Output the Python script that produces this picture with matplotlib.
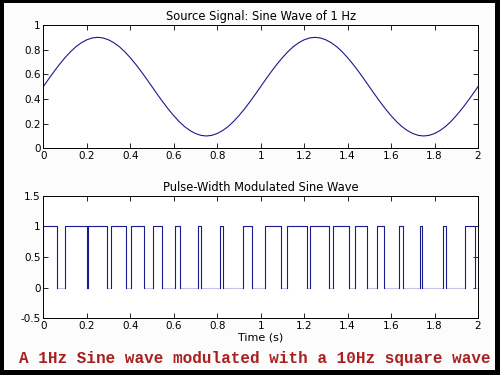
import numpy as np
import matplotlib
matplotlib.use("Agg")
import matplotlib.pyplot as plt
from matplotlib.patches import Rectangle

# ---- data ----
sine_values = [
    0.500, 0.563, 0.624, 0.682, 0.735, 0.783, 0.824, 0.856, 0.880, 0.895,
    0.900, 0.895, 0.880, 0.856, 0.824, 0.783, 0.735, 0.682, 0.624, 0.563,
    0.500, 0.437, 0.376, 0.318, 0.265, 0.217, 0.176, 0.144, 0.120, 0.105,
    0.100, 0.105, 0.120, 0.144, 0.176, 0.217, 0.265, 0.318, 0.376, 0.437,
    0.500, 0.563, 0.624, 0.682, 0.735, 0.783, 0.824, 0.856, 0.880, 0.895,
    0.900, 0.895, 0.880, 0.856, 0.824, 0.783, 0.735, 0.682, 0.624, 0.563,
    0.500, 0.437, 0.376, 0.318, 0.265, 0.217, 0.176, 0.144, 0.120, 0.105,
    0.100, 0.105, 0.120, 0.144, 0.176, 0.217, 0.265, 0.318, 0.376, 0.437,
    0.500,
]
t_start, t_end = 0.0, 2.0

pulse_starts = [0.000, 0.100, 0.205, 0.310, 0.403, 0.505, 0.607, 0.712, 0.813, 0.918,
                1.022, 1.123, 1.225, 1.331, 1.434, 1.535, 1.635, 1.735, 1.840, 1.941]
pulse_ends = [0.064, 0.199, 0.295, 0.382, 0.465, 0.545, 0.629, 0.724, 0.826, 0.961,
              1.093, 1.213, 1.314, 1.406, 1.488, 1.569, 1.655, 1.744, 1.855, 1.986]

x_ticks = [0, 0.2, 0.4, 0.6, 0.8, 1, 1.2, 1.4, 1.6, 1.8, 2]
x_ticklabels = ["0", "0.2", "0.4", "0.6", "0.8", "1", "1.2", "1.4", "1.6", "1.8", "2"]
top_yticks = [0, 0.2, 0.4, 0.6, 0.8, 1]
top_yticklabels = ["0", "0.2", "0.4", "0.6", "0.8", "1"]
bot_yticks = [-0.5, 0, 0.5, 1, 1.5]
bot_yticklabels = ["-0.5", "0", "0.5", "1", "1.5"]

title_top = "Source Signal: Sine Wave of 1 Hz"
title_bot = "Pulse-Width Modulated Sine Wave"
xlabel = "Time (s)"
caption = "A 1Hz Sine wave modulated with a 10Hz square wave"

# ---- figure ----
plt.rcParams['font.family'] = ['DejaVu Sans']
fig = plt.figure(figsize=(5, 3.75), dpi=100, facecolor="black")
fig.patches.append(Rectangle((0.008, 0.013), 0.982, 0.979, transform=fig.transFigure,
                             facecolor="#fcfcfc", edgecolor="none", zorder=-10))

line_color = "#1a1a8c"
low_color = "#c4c4e4"
fs = 7.5

def style(ax):
    ax.tick_params(direction="in", top=True, right=True, length=3.5, width=0.6,
                   labelsize=fs, pad=2)
    for s in ax.spines.values():
        s.set_linewidth(0.7)
    ax.set_facecolor("white")

ax1 = fig.add_axes([0.0866, 0.6045, 0.8694, 0.3288])
t = np.linspace(t_start, t_end, len(sine_values))
ax1.plot(t, sine_values, color=line_color, lw=0.8)
ax1.set_xlim(0, 2)
ax1.set_ylim(0, 1)
ax1.set_xticks(x_ticks, x_ticklabels)
ax1.set_yticks(top_yticks, top_yticklabels)
ax1.set_title(title_top, fontsize=8.3, pad=3.5)
style(ax1)

ax2 = fig.add_axes([0.0866, 0.1512, 0.8694, 0.3269])
# low (zero-level) segments, rendered faint as in the reference
lx, ly = [], []
prev = t_start
for s, e in zip(pulse_starts, pulse_ends):
    if s > prev:
        lx += [prev, s, np.nan]
        ly += [0, 0, np.nan]
    prev = e
lx += [prev, t_end]
ly += [0, 0]
ax2.plot(lx, ly, color=low_color, lw=0.8)
# pulses: rising edge, top, falling edge
px, py = [], []
for s, e in zip(pulse_starts, pulse_ends):
    px += [s, s, e, e, np.nan]
    py += [0, 1, 1, 0, np.nan]
ax2.plot(px, py, color=line_color, lw=0.8)
ax2.set_xlim(0, 2)
ax2.set_ylim(-0.5, 1.5)
ax2.set_xticks(x_ticks, x_ticklabels)
ax2.set_yticks(bot_yticks, bot_yticklabels)
ax2.set_title(title_bot, fontsize=8.3, pad=3.5)
ax2.set_xlabel(xlabel, fontsize=8, labelpad=1)
style(ax2)

fig.text(0.51, 0.045, caption, ha="center", va="center", color="#a82020",
         fontsize=11.5, fontweight="bold", family=["Liberation Mono", "DejaVu Sans Mono"])

fig.savefig("out.png", dpi=100, facecolor=fig.get_facecolor())
